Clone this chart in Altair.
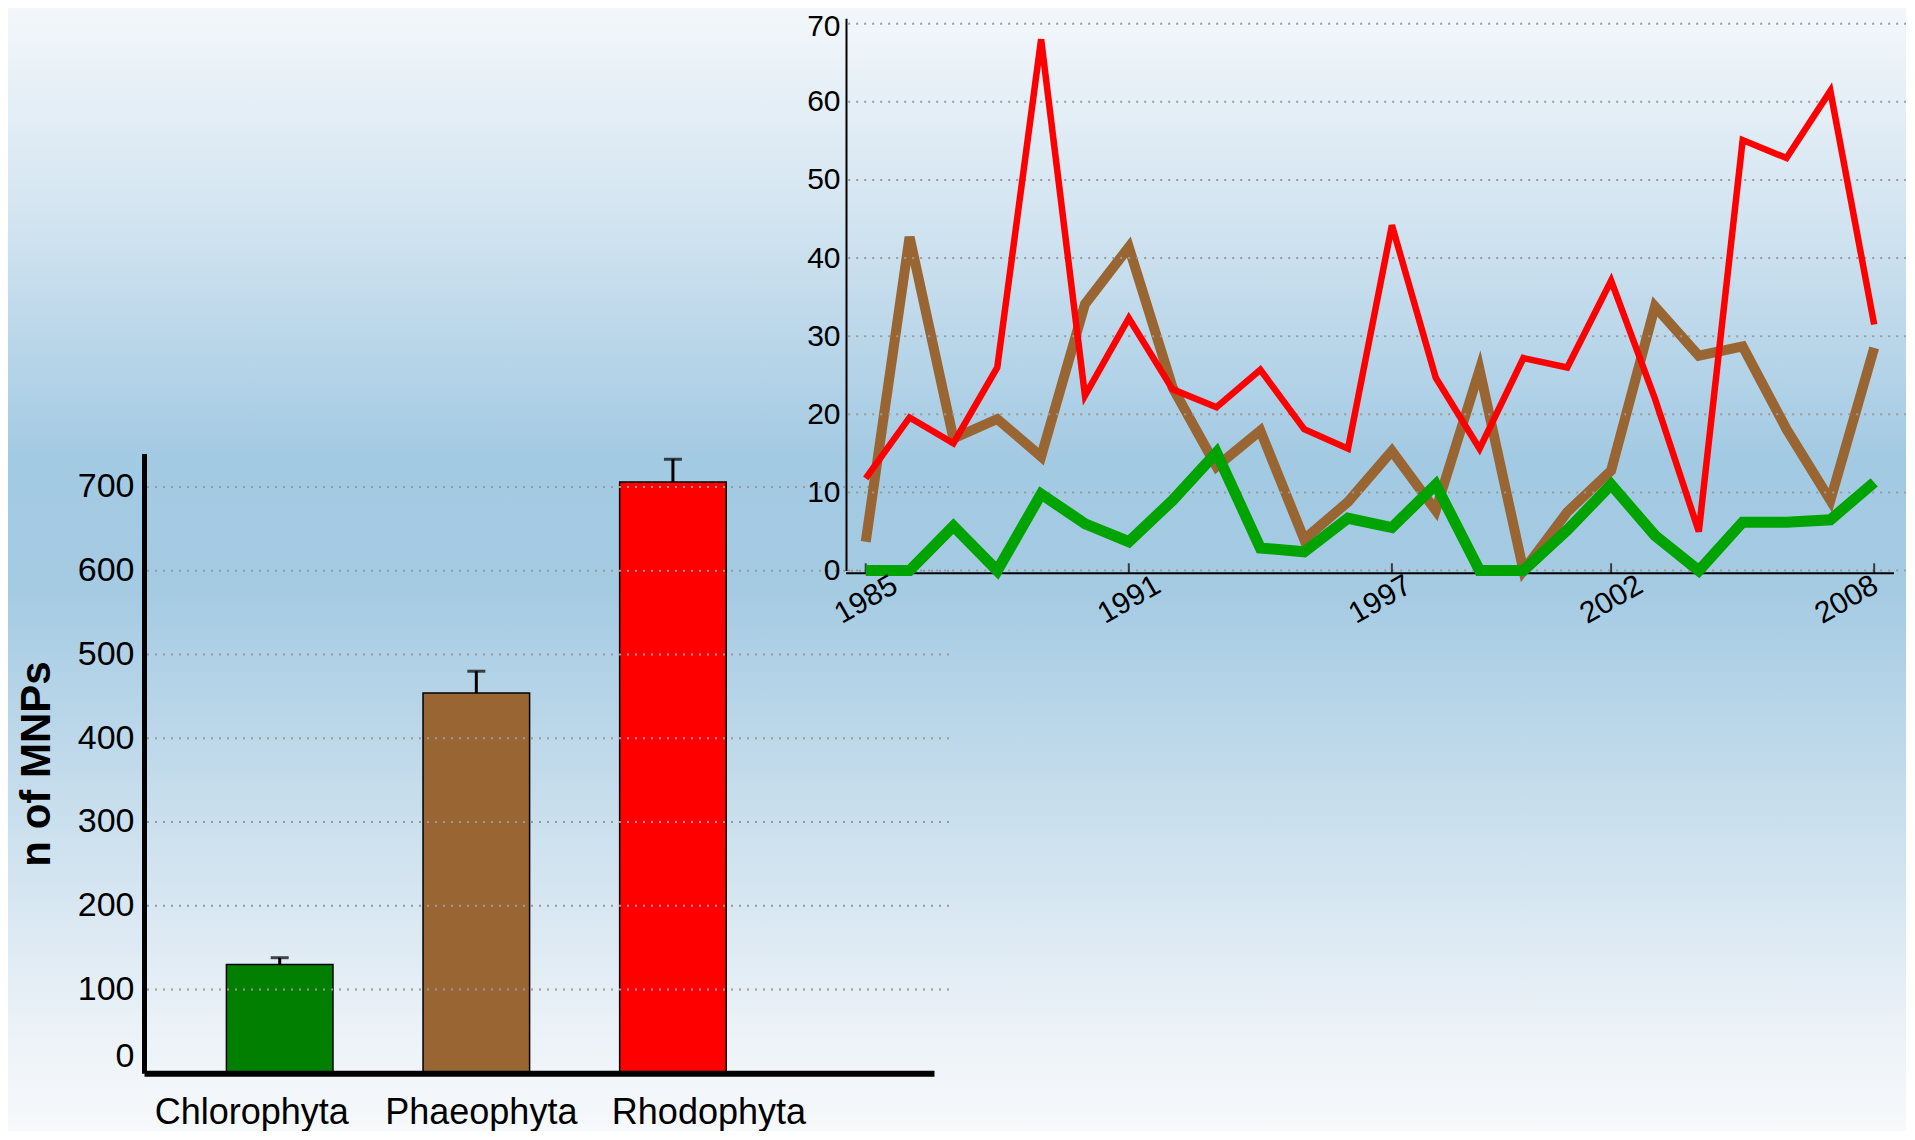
import altair as alt
import pandas as pd

# ---------------- data ----------------
groups = ["Chlorophyta", "Phaeophyta", "Rhodophyta"]
bar_values = [130, 454, 706]
bar_upper = [138, 480, 733]
bar_colors = ["#007f00", "#996633", "#ff0000"]
bar_ticks = [0, 100, 200, 300, 400, 500, 600, 700]

years = list(range(1985, 2009))
rhodophyta = [11.8, 19.6, 16.3, 26.0, 68.0, 22.4, 32.3, 23.2, 20.9, 25.7, 18.1, 15.6,
              44.2, 24.7, 15.6, 27.2, 26.0, 37.1, 22.0, 5.0, 55.1, 52.8, 61.4, 31.5]
phaeophyta = [3.7, 42.7, 16.9, 19.4, 14.6, 34.1, 41.4, 23.4, 13.3, 17.9, 4.0, 8.8,
              15.3, 7.7, 25.7, 0.0, 7.5, 12.8, 33.8, 27.5, 28.7, 18.1, 9.0, 28.5]
chlorophyta = [0.0, 0.0, 5.7, 0.0, 9.8, 6.0, 3.7, 9.0, 15.1, 2.9, 2.4, 6.7,
               5.5, 11.0, 0.0, 0.0, 5.2, 11.0, 4.5, 0.0, 6.2, 6.2, 6.5, 11.3]
year_ticks = [1985, 1991, 1997, 2002, 2008]
line_ticks = [0, 10, 20, 30, 40, 50, 60, 70]

W, H = 1898, 1123
FONT = "Liberation Sans"
GRID = "#9a9a9a"

bar_df = pd.DataFrame({"group": groups, "value": bar_values, "upper": bar_upper})
line_df = pd.DataFrame({
    "year": years * 3,
    "value": rhodophyta + phaeophyta + chlorophyta,
    "series": ["Rhodophyta"] * 24 + ["Phaeophyta"] * 24 + ["Chlorophyta"] * 24,
})
bar_grid_df = pd.DataFrame({"value": bar_ticks[1:]})
line_grid_df = pd.DataFrame({"value": line_ticks})

# ---------------- background ----------------
grad = alt.LinearGradient(
    gradient="linear", x1=0, y1=0, x2=0, y2=1,
    stops=[
        alt.GradientStop(offset=0.0, color="#f3f7fb"),
        alt.GradientStop(offset=0.18, color="#d4e5f1"),
        alt.GradientStop(offset=0.40, color="#a3cae3"),
        alt.GradientStop(offset=0.52, color="#a5cbe3"),
        alt.GradientStop(offset=0.75, color="#cfe2ef"),
        alt.GradientStop(offset=0.9, color="#eaf1f7"),
        alt.GradientStop(offset=1.0, color="#f7f9fb"),
    ],
)
bg = alt.Chart(alt.Data(values=[{"a": 1}])).mark_rect(color=grad).encode(
    x=alt.value(0), x2=alt.value(W), y=alt.value(0), y2=alt.value(H)
)

# ---------------- bar chart ----------------
xb = alt.X(
    "group:N", sort=groups,
    scale=alt.Scale(domain=groups, range=[136, 926], paddingInner=0.458,
                    paddingOuter=0.738, align=0.284, round=False),
    axis=alt.Axis(
        orient="bottom", offset=1065.3 - H, title=None, ticks=False, tickSize=0,
        domainColor="black", domainWidth=6, labelAngle=0, labelFontSize=36,
        labelColor="black", labelPadding=22, labelBaseline="top", labelLimit=0,
        grid=False, zindex=1,
        labelOffset={"condition": [
            {"test": "datum.value === 'Chlorophyta'", "value": -28},
            {"test": "datum.value === 'Rhodophyta'", "value": 36}],
            "value": 5},
    ),
)
yb = alt.Y(
    "value:Q",
    scale=alt.Scale(domain=[0, 740], range=[1065.3, 445.4], nice=False, zero=False),
    axis=alt.Axis(
        orient="left", offset=-136, values=bar_ticks, ticks=False, tickSize=0,
        domainColor="black", domainWidth=5, labelFontSize=34, labelColor="black",
        labelPadding=10, labelFlush=True, labelOverlap=False, grid=False, zindex=1,
        title="n of MNPs", titleFontSize=42, titleFontWeight="bold", titleColor="black",
        titleAngle=270, titleAlign="center", titleBaseline="middle",
        titleX=-107.5, titleY=755.5,
    ),
)
bar_grid = alt.Chart(bar_grid_df).mark_rule(
    color=GRID, strokeDash=[2, 6], strokeWidth=2
).encode(y=alt.Y("value:Q"), x=alt.value(139), x2=alt.value(942))
bars = alt.Chart(bar_df).mark_bar(stroke="black", strokeWidth=1.5).encode(
    x=xb, y=yb,
    color=alt.Color("group:N", scale=alt.Scale(domain=groups, range=bar_colors), legend=None),
)
err = alt.Chart(bar_df).mark_rule(color="black", strokeWidth=3).encode(
    x=alt.X("group:N", sort=groups), y="value:Q", y2="upper:Q"
)
cap = alt.Chart(bar_df).mark_tick(color="black", thickness=3, size=18, orient="horizontal").encode(
    x=alt.X("group:N", sort=groups), y="upper:Q"
)
bar_layer = alt.layer(bars, bar_grid, err, cap)

# ---------------- line chart ----------------
xl = alt.X(
    "year:Q",
    scale=alt.Scale(domain=[1984.55, 2008.6], range=[838, 1892.5], nice=False, zero=False),
    axis=alt.Axis(
        orient="bottom", offset=565.3 - H, values=year_ticks, format="d", title=None,
        ticks=False, tickSize=0, domain=False, zindex=1,
        labelAngle=330, labelAlign="center", labelBaseline="middle", labelPadding=26,
        labelFontSize=30, labelColor="black", labelFlush=False, labelOverlap=False,
        grid=False,
        labelOffset={"condition": [
            {"test": "datum.value == 2008", "value": -28},
            {"test": "datum.value == 1997", "value": -12}],
            "value": 0},
    ),
)
yl = alt.Y(
    "value:Q",
    scale=alt.Scale(domain=[0, 70.7], range=[562.6, 10.2], nice=False, zero=False),
    axis=alt.Axis(
        orient="left", offset=-838, values=line_ticks, title=None, ticks=False, tickSize=0,
        domainColor="black", domainWidth=2, labelFontSize=30, labelColor="black",
        labelPadding=6, labelFlush=False, labelOverlap=False, grid=False, zindex=1,
        labelOffset={"condition": {"test": "datum.value == 70", "value": 3}, "value": 0},
    ),
)
line_grid = alt.Chart(line_grid_df).mark_rule(
    color=GRID, strokeDash=[2, 6], strokeWidth=2
).encode(x=alt.datum(1984.6), x2=alt.datum(2008.8), y=alt.Y("value:Q"))
x_domain_line = alt.Chart(alt.Data(values=[{"a": 1}])).mark_rule(
    color="black", strokeWidth=2, yOffset=2.7
).encode(x=alt.datum(1984.55), x2=alt.datum(2008.45), y=alt.datum(0))
xticks = alt.Chart(pd.DataFrame({"year": year_ticks})).mark_tick(
    color="black", thickness=2, size=10, orient="vertical", yOffset=-2.3
).encode(x="year:Q", y=alt.datum(0))
brown = alt.Chart(line_df).transform_filter("datum.series === 'Phaeophyta'").mark_line(
    color="#996633", strokeWidth=10).encode(x=xl, y=yl)
green = alt.Chart(line_df).transform_filter("datum.series === 'Chlorophyta'").mark_line(
    color="#00a300", strokeWidth=11).encode(x="year:Q", y="value:Q")
red = alt.Chart(line_df).transform_filter("datum.series === 'Rhodophyta'").mark_line(
    color="#ff0000", strokeWidth=6.5).encode(x="year:Q", y="value:Q")
line_layer = alt.layer(brown, line_grid, x_domain_line, xticks, green, red)

chart = (
    alt.layer(bg, bar_layer, line_layer)
    .resolve_scale(x="independent", y="independent")
    .properties(width=W, height=H, autosize=alt.AutoSizeParams(type="none"), padding=0)
    .configure_view(stroke=None)
    .configure_axis(labelFont=FONT, titleFont=FONT)
)

chart.save("out.html", embed_options={"renderer": "svg", "actions": False})
